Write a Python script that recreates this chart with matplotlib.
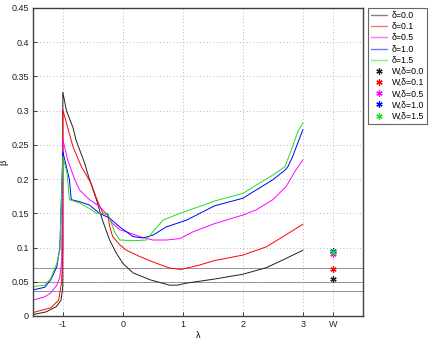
import matplotlib
matplotlib.use("Agg")
import matplotlib.pyplot as plt

plt.rcParams['font.family'] = ['Liberation Sans', 'DejaVu Sans']

# ---- data ----
lam_k = [-1.5, -1.28, -1.11, -1.03, -1.0, -1.0, -0.94, -0.83, -0.78, -0.64, -0.555, -0.44, -0.34, -0.22, -0.11, 0.0, 0.17, 0.45, 0.78, 0.9, 1.06, 1.53, 2.0, 2.39, 2.67, 3.0]
beta_k = [0.002, 0.006, 0.0136, 0.023, 0.043, 0.327, 0.30, 0.275, 0.257, 0.224, 0.199, 0.17, 0.14, 0.111, 0.092, 0.077, 0.063, 0.053, 0.045, 0.045, 0.048, 0.054, 0.061, 0.0706, 0.082, 0.096]

lam_r = [-1.5, -1.2, -1.07, -1.02, -1.0, -1.0, -0.83, -0.69, -0.53, -0.44, -0.33, -0.25, -0.22, -0.17, -0.05, 0.06, 0.28, 0.5, 0.78, 0.97, 1.28, 1.53, 2.0, 2.39, 2.67, 3.0]
beta_r = [0.005, 0.012, 0.023, 0.05, 0.1, 0.301, 0.247, 0.218, 0.194, 0.172, 0.15, 0.148, 0.131, 0.116, 0.104, 0.096, 0.087, 0.079, 0.07, 0.068, 0.0745, 0.081, 0.089, 0.101, 0.116, 0.134]

lam_m = [-1.5, -1.3, -1.2, -1.1, -1.05, -1.02, -1.0, -0.92, -0.8, -0.72, -0.555, -0.39, -0.28, -0.17, -0.05, 0.06, 0.28, 0.5, 0.72, 0.95, 1.17, 1.53, 2.0, 2.22, 2.5, 2.72, 2.88, 3.0]
beta_m = [0.023, 0.028, 0.034, 0.045, 0.057, 0.08, 0.258, 0.228, 0.199, 0.184, 0.17, 0.16, 0.15, 0.135, 0.126, 0.123, 0.116, 0.111, 0.111, 0.113, 0.123, 0.135, 0.1475, 0.155, 0.17, 0.189, 0.213, 0.228]

lam_b = [-1.5, -1.3, -1.2, -1.1, -1.05, -1.0, -0.94, -0.89, -0.86, -0.72, -0.555, -0.39, -0.22, -0.05, 0.17, 0.33, 0.5, 0.72, 1.06, 1.53, 2.0, 2.22, 2.5, 2.7, 2.75, 2.83, 2.89, 3.0]
beta_b = [0.038, 0.042, 0.053, 0.072, 0.1, 0.24, 0.218, 0.199, 0.17, 0.167, 0.162, 0.15, 0.143, 0.13, 0.116, 0.114, 0.118, 0.13, 0.14, 0.161, 0.172, 0.184, 0.199, 0.213, 0.218, 0.233, 0.247, 0.272]

lam_g = [-1.5, -1.3, -1.2, -1.1, -1.05, -1.0, -0.93, -0.89, -0.72, -0.555, -0.44, -0.25, -0.14, -0.05, 0.17, 0.39, 0.5, 0.67, 0.95, 1.28, 1.53, 2.0, 2.22, 2.5, 2.7, 2.81, 2.92, 3.0]
beta_g = [0.043, 0.045, 0.055, 0.077, 0.096, 0.233, 0.209, 0.17, 0.165, 0.157, 0.15, 0.15, 0.123, 0.111, 0.11, 0.111, 0.123, 0.14, 0.15, 0.16, 0.168, 0.179, 0.191, 0.206, 0.218, 0.243, 0.27, 0.282]

deltas = ["0.0", "0.1", "0.5", "1.0", "1.5"]
colors = ["#202020", "red", "magenta", "blue", "#22dd22"]
w_values = [0.054, 0.068, 0.0905, 0.095, 0.0935]
w_colors = ["#202020", "red", "magenta", "blue", "#22dd22"]
hline_values = [0.0697, 0.050, 0.0365]

xtick_pos = [-1, 0, 1, 2, 3, 3.5]
xtick_labels = ["-1", "0", "1", "2", "3", "W"]
ytick_pos = [0, 0.05, 0.1, 0.15, 0.2, 0.25, 0.3, 0.35, 0.4, 0.45]
ytick_labels = ["0", "0.05", "0.1", "0.15", "0.2", "0.25", "0.3", "0.35", "0.4", "0.45"]

# ---- plot ----
fig = plt.figure(figsize=(4.32, 3.40), dpi=100)
ax = fig.add_axes([0.076, 0.0706, 0.764, 0.906])

series = [(lam_k, beta_k), (lam_r, beta_r), (lam_m, beta_m), (lam_b, beta_b), (lam_g, beta_g)]
line_handles = []
for (lx, by), c, d in zip(series, colors, deltas):
    h, = ax.plot(lx, by, color=c, lw=0.7, label="δ=" + d)
    line_handles.append(h)

# horizontal reference lines (overlapping dotted lines of several colours)
for yv in hline_values:
    ax.axhline(yv, color="#7a7a9a", lw=0.6, zorder=1)
    ax.axhline(yv, color="#c09090", lw=0.6, linestyle=(0, (1, 2)), zorder=1)

marker_handles = []
for wv, c, d in zip(w_values, w_colors, deltas):
    h, = ax.plot([3.5], [wv], linestyle="none", marker=(6, 2, 0), color=c,
                 markersize=4.5, markeredgewidth=0.9, label="W,δ=" + d)
    marker_handles.append(h)

ax.set_xlim(-1.5, 4)
ax.set_ylim(0, 0.45)
ax.set_xticks(xtick_pos)
ax.set_xticklabels(xtick_labels, fontsize=6.5)
ax.set_yticks(ytick_pos)
ax.set_yticklabels(ytick_labels, fontsize=6.5)
ax.tick_params(direction="in", length=3, width=0.6, colors="#202020", pad=3)
ax.grid(True, linestyle=(0, (1, 3)), color="#a0a0a0", lw=0.6)
for s in ax.spines.values():
    s.set_color("#404040")
    s.set_linewidth(1.0)
ax.set_xlabel("λ", fontsize=6.5, labelpad=1)
ax.set_ylabel("β", fontsize=6.5, labelpad=2)

leg = ax.legend(handles=line_handles + marker_handles, loc="upper left",
                bbox_to_anchor=(1.015, 1.0), fontsize=6.3, frameon=True,
                fancybox=False, borderaxespad=0, handlelength=1.8,
                labelspacing=0.25, borderpad=0.35, handletextpad=0.6)
leg.get_frame().set_edgecolor("#404040")
leg.get_frame().set_linewidth(0.8)
for lh, c in zip(leg.get_lines()[:5], colors):
    lh.set_color(c)
    lh.set_linewidth(1.0)
    lh.set_alpha(0.55)

fig.savefig("out.png", dpi=100)
